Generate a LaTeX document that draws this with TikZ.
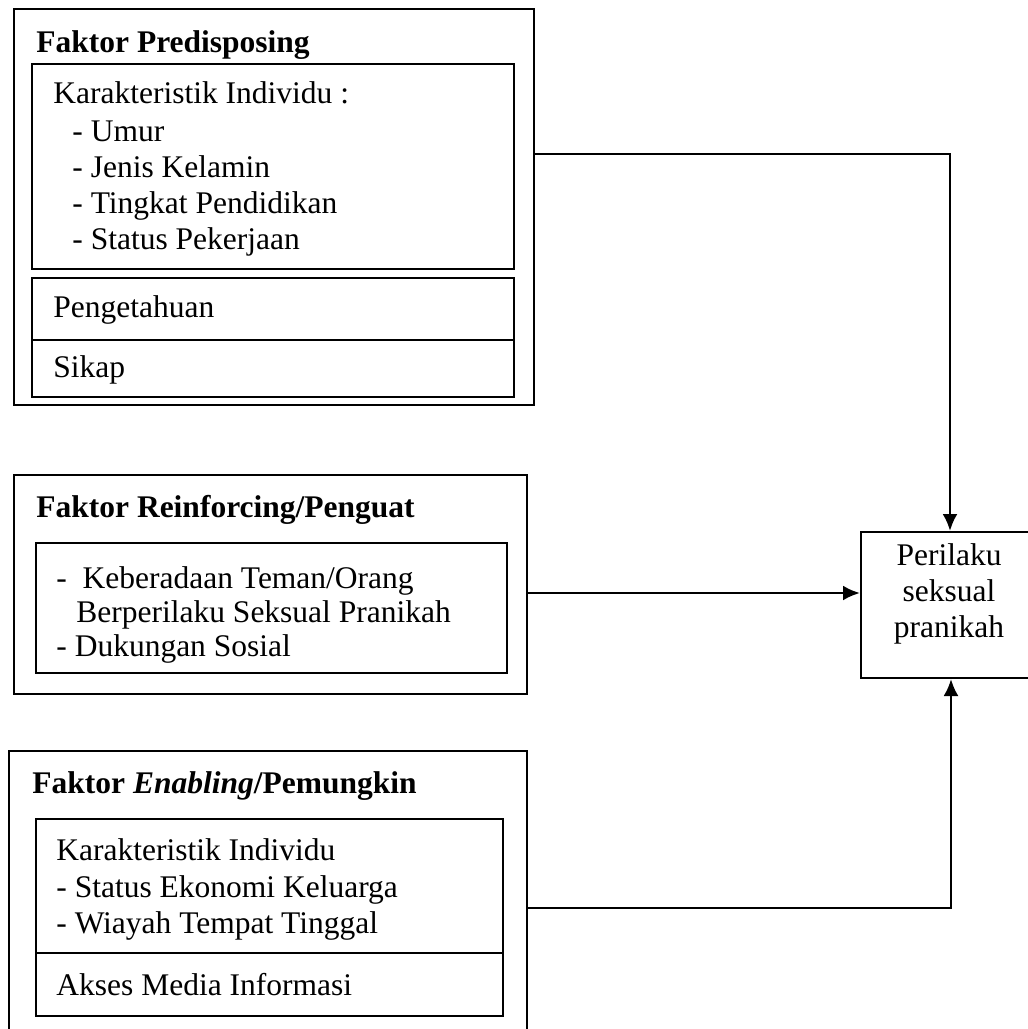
\documentclass[tikz,border=0pt]{standalone}
\usepackage{fontspec}
\setmainfont{Liberation Serif}
\usepackage{tikz}
\usetikzlibrary{arrows.meta, fit}

\begin{document}
\begin{tikzpicture}[x=0.5pt, y=-0.5pt,
        every node/.style={font=\fontsize{15.75pt}{18pt}\selectfont},
        box/.style={draw, line width=1pt, inner sep=0pt},
        txt/.style={anchor=base west, inner sep=0pt},
        conn/.style={line width=1.3pt, -{Latex[length=8.5pt, width=7.5pt]}}]
        \useasboundingbox (0,0) rectangle (1028,1029);

        \node[box, fit={(14,9) (534,405)}] (fp) {};
        \node[txt] (fpt) at (36,52) {\textbf{Faktor Predisposing}};
        \node[box, fit={(32,64) (514,269)}] (ki) {};
        \node[txt] (ki0) at (53,103) {Karakteristik Individu :};
        \node[txt] (ki1) at (72,141) {- Umur};
        \node[txt] (ki2) at (72,177) {- Jenis Kelamin};
        \node[txt] (ki3) at (72,213) {- Tingkat Pendidikan};
        \node[txt] (ki4) at (72,249) {- Status Pekerjaan};
        \node[box, fit={(32,278) (514,340)}] (pg) {};
        \node[txt] (pgt) at (53,317) {Pengetahuan};
        \node[box, fit={(32,340) (514,397)}] (sk) {};
        \node[txt] (skt) at (53,377) {Sikap};

        \node[box, fit={(14,475) (527,694)}] (fr) {};
        \node[txt] (frt) at (36,517) {\textbf{Faktor Reinforcing/Penguat}};
        \node[box, fit={(36,543) (507,673)}] (tm) {};
        \node[txt] (tm1) at (56,588) {-~~Keberadaan Teman/Orang};
        \node[txt] (tm2) at (76,622) {Berperilaku Seksual Pranikah};
        \node[txt] (tm3) at (56,656) {- Dukungan Sosial};

        \node[box, fit={(9,751) (527,1040)}] (fe) {};
        \node[txt] (fet) at (32,793) {\textbf{Faktor \textit{Enabling}/Pemungkin}};
        \node[box, fit={(36,819) (503,953)}] (ke) {};
        \node[txt] (ke0) at (56,860) {Karakteristik Individu};
        \node[txt] (ke1) at (56,897) {- Status Ekonomi Keluarga};
        \node[txt] (ke2) at (56,933) {- Wiayah Tempat Tinggal};
        \node[box, fit={(36,953) (503,1016)}] (am) {};
        \node[txt] (amt) at (56,995) {Akses Media Informasi};

        \node[box, fit={(861,532) (1037,678)}, align=center] (pp) {Perilaku\\seksual\\pranikah};

        \coordinate (b1) at (950,154);
        \coordinate (b2) at (861,593);
        \coordinate (b3) at (951,908);
        \draw[conn] (fp.east |- b1) -- (b1) -- (pp.north -| b1);
        \draw[conn] (fr.east |- b2) -- (pp.west |- b2);
        \draw[conn] (fe.east |- b3) -- (b3) -- (pp.south -| b3);
\end{tikzpicture}
\end{document}
